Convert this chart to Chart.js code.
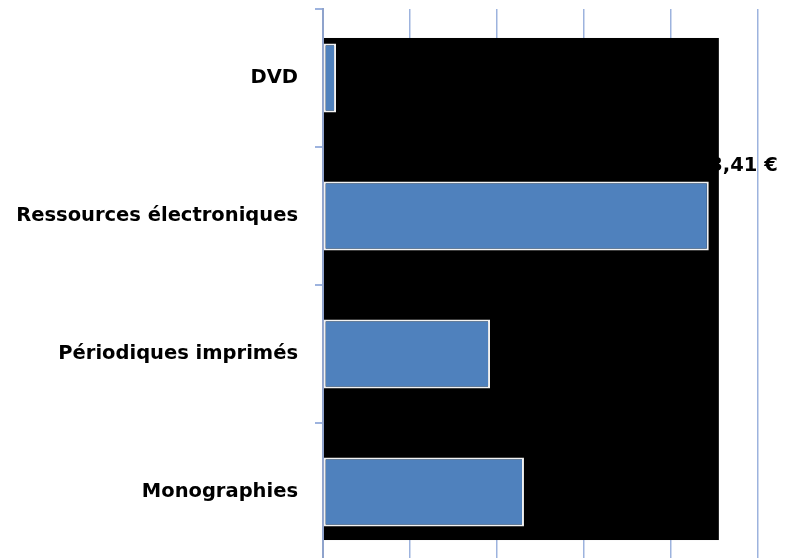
<!DOCTYPE html>
<html>
<head>
<meta charset="utf-8">
<script src="https://cdn.jsdelivr.net/npm/chart.js@4/dist/chart.umd.min.js"></script>
<style>
  html, body { margin: 0; padding: 0; background: #fff; overflow: hidden; }
  #wrap { width: 870px; height: 600px; }
</style>
</head>
<body>
<div id="wrap"><canvas id="chart" width="870" height="600"></canvas></div>
<script>
// Data
const categories = ['DVD', 'Ressources électroniques', 'Périodiques imprimés', 'Monographies'];
const amounts = [15, 443.41, 192, 231];
const valueLabels = ['', '443,41 €', '', ''];
const xTicks = [0, 100, 200, 300, 400, 500, 600];

const gridBlue = '#9DB3DE';
const labelFont = "'DejaVu Sans', sans-serif";

// label first, then the black panel over it (as in the reference), bars on top
const backdrop = {
    id: 'backdrop',
    beforeDatasetsDraw(chart) {
        const { ctx, scales: { x, y } } = chart;
        const meta = chart.getDatasetMeta(0);
        ctx.save();
        ctx.font = 'bold 19.5px ' + labelFont;
        ctx.fillStyle = '#000';
        ctx.textAlign = 'right';
        ctx.textBaseline = 'middle';
        meta.data.forEach((bar, i) => {
            if (!valueLabels[i]) return;
            ctx.fillText(valueLabels[i], bar.x + 69, bar.y - bar.height / 2 - 16);
        });
        const left = x.getPixelForValue(0) + 1;
        const right = x.getPixelForValue(455);
        const top = y.getPixelForValue(-0.29);
        const bottom = y.getPixelForValue(3.348);
        ctx.fillRect(left, top, right - left, bottom - top);
        ctx.restore();
    }
};

new Chart(document.getElementById('chart'), {
    type: 'bar',
    data: {
        labels: categories,
        datasets: [{
            data: amounts,
            backgroundColor: '#4F81BD',
            borderColor: '#F2F2F2',
            borderWidth: 2,
            borderSkipped: false,
            barPercentage: 0.5,
            categoryPercentage: 1.0
        }]
    },
    options: {
        indexAxis: 'y',
        responsive: false,
        animation: false,
        layout: { padding: { top: 9, right: 25, bottom: 0, left: 0 } },
        plugins: {
            legend: { display: false },
            tooltip: { enabled: false }
        },
        scales: {
            x: {
                min: 0,
                max: 600,
                afterBuildTicks: (scale) => { scale.ticks = xTicks.map(v => ({ value: v })); },
                afterFit: (scale) => { scale.height = 39; scale.paddingLeft = 0; scale.paddingRight = 0; },
                ticks: { display: false },
                border: { display: false },
                grid: { color: gridBlue, lineWidth: 1.5, drawTicks: false }
            },
            y: {
                afterFit: (scale) => { scale.width = 323; scale.paddingTop = 0; scale.paddingBottom = 0; },
                border: { display: true, color: '#8FA3CC', width: 2 },
                grid: {
                    offset: true,
                    drawOnChartArea: false,
                    drawTicks: true,
                    tickLength: 8,
                    color: gridBlue,
                    lineWidth: 2
                },
                ticks: {
                    padding: 17,
                    color: '#000',
                    font: { family: labelFont, size: 19.5, weight: 'bold' }
                }
            }
        }
    },
    plugins: [backdrop]
});
</script>
</body>
</html>
